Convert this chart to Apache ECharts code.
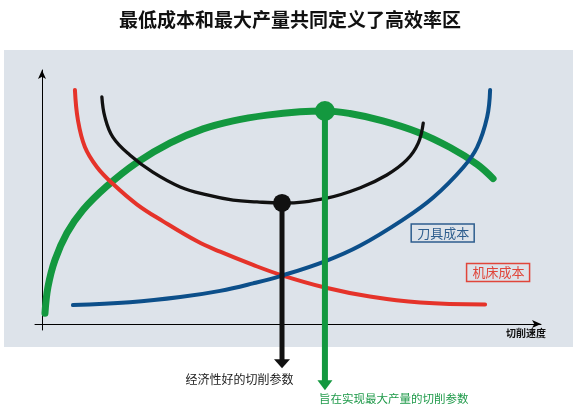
<!DOCTYPE html>
<html>
<head>
<meta charset="utf-8">
<script src="https://cdn.jsdelivr.net/npm/echarts@6/dist/echarts.min.js"></script>
<style>html,body{margin:0;padding:0;background:#fff}#c{width:580px;height:410px}</style>
</head>
<body>
<div id="c"></div>
<script>
// ---- text ----
const titleText = '最低成本和最大产量共同定义了高效率区';
const xAxisName = '切削速度';
const toolLabel = '刀具成本';
const machineLabel = '机床成本';
const economicLabel = '经济性好的切削参数';
const maxOutputLabel = '旨在实现最大产量的切削参数';

// ---- curves (x: cutting speed, y: relative value) ----
const productivityX = [0.6, 1.2, 2.6, 5.0, 8.2, 13.0, 19.0, 25.7, 32.3, 38.3, 45.1, 51.7, 56.7, 61.7, 68.3, 75.2, 81.8, 87.2, 90.4];
const productivityY = [4.2, 14.3, 24.7, 35.1, 44.0, 53.2, 62.3, 69.9, 75.3, 78.4, 80.6, 81.9, 82.2, 81.2, 78.4, 74.1, 68.1, 61.6, 56.1];

const totalCostX = [12.0, 12.6, 14.2, 17.6, 22.2, 27.7, 33.1, 38.3, 43.1, 48.1, 57.1, 63.7, 69.1, 73.1, 75.4, 76.4];
const totalCostY = [87.6, 79.9, 72.1, 65.2, 58.6, 52.9, 49.8, 47.8, 47.1, 46.7, 48.6, 52.5, 57.5, 63.3, 69.8, 77.5];

const machineCostX = [6.6, 7.2, 8.6, 11.0, 14.2, 19.0, 24.2, 31.1, 35.7, 42.3, 48.1, 56.7, 65.7, 75.8, 88.8];
const machineCostY = [90.3, 78.7, 68.3, 60.6, 54.1, 46.2, 39.7, 31.9, 27.9, 22.8, 18.8, 14.1, 10.6, 8.3, 7.5];

const toolCostX = [6.2, 17.6, 27.7, 35.7, 42.3, 48.1, 56.7, 63.7, 72.3, 78.4, 84.4, 87.2, 89.2, 89.8];
const toolCostY = [7.3, 8.4, 10.4, 12.8, 15.7, 18.7, 24.2, 30.2, 40.2, 48.8, 60.4, 68.2, 79.8, 90.3];

// key points: [speed, value]
const economicPoint = [48.1, 46.7];   // minimum of total cost
const maxOutputPoint = [56.7, 82.2];  // maximum of productivity
const economicArrowEnd = -15.3;
const maxOutputArrowEnd = -23.6;
const toolLabelAt = [80.3, 35.1];
const machineLabelAt = [91.4, 19.9];

const FONT = '"Noto Sans CJK SC", sans-serif';
const GREEN = '#13983f', RED = '#e5332a', BLUE = '#0c4f8a', BLACK = '#111111';

function pts(xs, ys) { return xs.map((x, i) => [x, ys[i]]); }

const curve = (name, xs, ys, color, width, z) => ({
  name, type: 'line', smooth: 0.4, symbol: 'none', clip: false, z,
  data: pts(xs, ys), lineStyle: { color, width, cap: 'round', join: 'round' }
});

const chart = echarts.init(document.getElementById('c'));
chart.setOption({
  animation: false,
  backgroundColor: '#ffffff',
  title: {
    text: titleText, left: 'center', top: 5,
    textStyle: { fontFamily: FONT, fontSize: 19, fontWeight: 'bold', color: '#111' }
  },
  graphic: [
    { type: 'rect', z: -10, silent: true, shape: { x: 4, y: 50, width: 569, height: 297 }, style: { fill: '#dde3ea' } },
    { type: 'text', silent: true, x: 239.5, y: 379,
      style: { text: economicLabel, fill: '#222', font: '12px ' + FONT, textAlign: 'center', textVerticalAlign: 'middle' } },
    { type: 'text', silent: true, x: 319, y: 399,
      style: { text: maxOutputLabel, fill: '#1f9a4a', font: '11.5px ' + FONT, textAlign: 'left', textVerticalAlign: 'middle' } }
  ],
  grid: { left: 35, right: 39, top: 70, bottom: 80 },
  xAxis: {
    type: 'value', min: -1.4, max: 100,
    axisLine: { onZero: true, lineStyle: { color: '#000', width: 1 }, symbol: ['none', 'arrow'], symbolSize: [6, 9] },
    axisTick: { show: false }, axisLabel: { show: false }, splitLine: { show: false },
    name: xAxisName, nameLocation: 'end', nameGap: 5,
    nameTextStyle: { fontFamily: FONT, fontSize: 10, fontWeight: 'bold', color: '#111', align: 'right', verticalAlign: 'top', padding: [4, 0, 0, 0] }
  },
  yAxis: {
    type: 'value', min: -2.3, max: 98,
    axisLine: { onZero: true, lineStyle: { color: '#000', width: 1 }, symbol: ['none', 'arrow'], symbolSize: [6, 9] },
    axisTick: { show: false }, axisLabel: { show: false }, splitLine: { show: false }
  },
  series: [
    curve('productivity', productivityX, productivityY, GREEN, 7, 2),
    Object.assign(curve('machine', machineCostX, machineCostY, RED, 4, 3), {
      markPoint: {
        symbol: 'rect', symbolSize: 1, itemStyle: { color: 'rgba(0,0,0,0)' },
        label: { show: true, position: 'inside', formatter: machineLabel, fontFamily: FONT, fontSize: 13, color: '#e0453a',
          borderColor: '#e0453a', borderWidth: 1.5, padding: [3, 5, 2, 6] },
        data: [{ coord: machineLabelAt }]
      } }),
    Object.assign(curve('tool', toolCostX, toolCostY, BLUE, 4, 4), {
      markPoint: {
        symbol: 'rect', symbolSize: 1, itemStyle: { color: 'rgba(0,0,0,0)' },
        label: { show: true, position: 'inside', formatter: toolLabel, fontFamily: FONT, fontSize: 13, color: '#2e5e8e',
          borderColor: '#2e5e8e', borderWidth: 1.5, padding: [3, 5, 2, 6] },
        data: [{ coord: toolLabelAt }]
      } }),
    curve('total', totalCostX, totalCostY, BLACK, 3.3, 5),
    { name: 'economicDrop', type: 'line', symbol: 'none', clip: false, z: 6,
      data: [economicPoint, [economicPoint[0], economicArrowEnd]],
      lineStyle: { color: BLACK, width: 5 } },
    { name: 'maxOutputDrop', type: 'line', symbol: 'none', clip: false, z: 7,
      data: [maxOutputPoint, [maxOutputPoint[0], maxOutputArrowEnd]],
      lineStyle: { color: GREEN, width: 6 } },
    { name: 'arrows', type: 'scatter', clip: false, z: 8, symbol: 'triangle', symbolRotate: 180,
      itemStyle: { opacity: 1 },
      data: [
        { value: [economicPoint[0], economicArrowEnd], symbolSize: [16, 9], itemStyle: { color: BLACK, opacity: 1 } },
        { value: [maxOutputPoint[0], maxOutputArrowEnd], symbolSize: [15, 10], itemStyle: { color: GREEN, opacity: 1 } }
      ] },
    { name: 'points', type: 'scatter', clip: false, z: 9, symbol: 'circle',
      itemStyle: { opacity: 1 },
      data: [
        { value: economicPoint, symbolSize: 18, itemStyle: { color: BLACK, opacity: 1 } },
        { value: maxOutputPoint, symbolSize: 20, itemStyle: { color: GREEN, opacity: 1 } }
      ] }
  ]
});
</script>
</body>
</html>
